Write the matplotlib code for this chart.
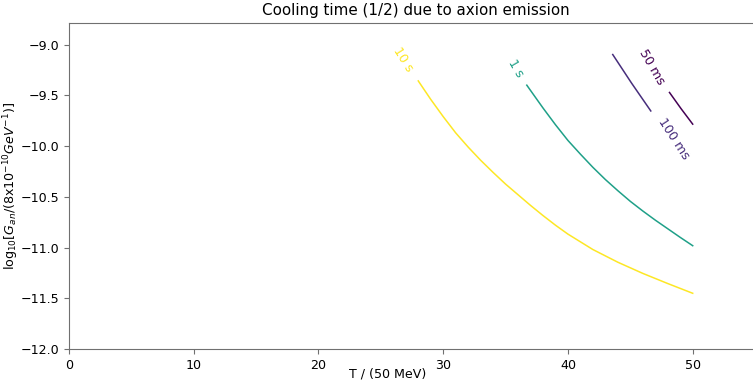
#!/usr/bin/env python3
"""Cooling time contours (1/2) due to axion emission."""
import matplotlib
matplotlib.use("Agg")
import matplotlib.pyplot as plt
from matplotlib.colors import LogNorm

# ── Data ─────────────────────────────────────────────────────────────────────
LEVELS = [0.05, 0.1, 1.0, 10.0]            # cooling time (s)
LEVEL_LABELS = ["50 ms", "100 ms", "1 s", "10 s"]

T_10S = [28, 29, 30, 31, 32, 33, 34, 35, 36, 37, 38, 39, 40, 42, 44, 46, 48, 50]
G_10S = [-9.358, -9.54, -9.71, -9.87, -10.01, -10.14, -10.26, -10.375, -10.48,
         -10.585, -10.685, -10.78, -10.868, -11.02, -11.145, -11.255, -11.355, -11.451]

T_1S = [36.7, 37, 38, 39, 40, 41, 42, 43, 44, 45, 46, 47, 48, 49, 50]
G_1S = [-9.40, -9.452, -9.625, -9.79, -9.945, -10.08, -10.21, -10.33, -10.44,
        -10.545, -10.64, -10.73, -10.815, -10.90, -10.982]

T_100MS = [43.59, 45.1, 46.64]
G_100MS = [-9.098, -9.38, -9.654]

T_50MS = [48.14, 49.07, 50.0]
G_50MS = [-9.472, -9.632, -9.784]

# label anchor (T, log10 G) and rotation for each level
LABEL_T = [46.72, 48.46, 35.77, 26.8]
LABEL_G = [-9.22, -9.925, -9.236, -9.15]
LABEL_ROT = [-60, -57, -60, -58]

SPINE = "#707070"


def main():
    plt.rcParams["font.size"] = 9.1
    fig = plt.figure(figsize=(7.53, 3.83), dpi=100)
    ax = fig.add_axes([0.0916, 0.0888, 0.9211, 0.8504])

    norm = LogNorm(vmin=LEVELS[0], vmax=LEVELS[-1])
    cmap = plt.get_cmap("viridis")
    colors = [cmap(norm(lv)) for lv in LEVELS]

    curves = [(T_50MS, G_50MS), (T_100MS, G_100MS), (T_1S, G_1S), (T_10S, G_10S)]
    for (t, g), c in zip(curves, colors):
        ax.plot(t, g, color=c, linewidth=1.1)

    for lab, x, y, rot, c in zip(LEVEL_LABELS, LABEL_T, LABEL_G, LABEL_ROT, colors):
        ax.text(x, y, lab, color=c, rotation=rot, ha="center", va="center",
                rotation_mode="anchor")

    ax.set_xlim(0, 55.6)
    ax.set_ylim(-12.0, -8.79)
    ax.set_title("Cooling time (1/2) due to axion emission")
    ax.set_xlabel("T / (50 MeV)")
    ax.set_ylabel(r"log$_{10}$[$G_{an}$/(8x10$^{-10}$$GeV^{-1}$)]")
    ax.xaxis.set_label_coords(0.46, -0.058)
    ax.yaxis.set_label_coords(-0.069, 0.5)

    ax.spines["right"].set_visible(False)
    for s in ("left", "bottom", "top"):
        ax.spines[s].set_color(SPINE)
    ax.tick_params(color=SPINE, labelcolor="black")

    fig.savefig("out.png", dpi=100)


if __name__ == "__main__":
    main()
